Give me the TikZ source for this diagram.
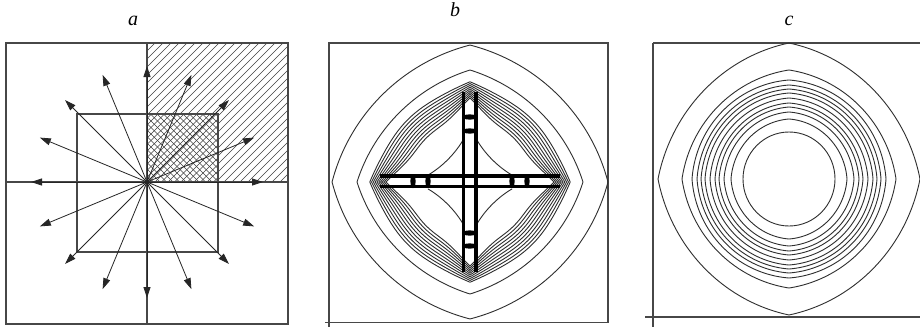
\documentclass[tikz,border=0pt]{standalone}
\usepackage{fontspec}
\setmainfont{Liberation Serif}
\usetikzlibrary{arrows.meta}
\pgfmathdeclarefunction{lensr}{3}{\pgfmathparse{-#2*(abs(cos(#1))+abs(sin(#1)))+sqrt((#2)^2*(abs(cos(#1))+abs(sin(#1)))^2+#3)}}
\begin{document}
\begin{tikzpicture}[x=1pt,y=-1pt,
  frame/.style={draw=black!72, line width=1.2pt},
  cont/.style={draw=black!82, line width=0.9pt},
  ray/.style={draw=black!85, line width=0.8pt, -{Triangle[length=11pt,width=7pt]}},
  hatchline/.style={draw=black!75, line width=0.6pt},
  barline/.style={draw=black, line width=3.4pt},
  lbl/.style={font=\itshape\fontsize{20}{20}\selectfont, inner sep=0pt}]
\useasboundingbox (0,0) rectangle (920,329);
\fill[white] (0,0) rectangle (920,329);
% labels
\node[lbl] (la) at (133,21) {a};
\node[lbl] (lb) at (455,10) {b};
\node[lbl] (lc) at (789,21) {c};
% ---------------- panel a ----------------
\coordinate (ca) at (147,182);
\begin{scope}
  \clip (147,43) rectangle (288,182);
  \foreach \i in {0,...,36} \draw[hatchline] ({8+\i*8},182) -- ++(150,-150);
\end{scope}
\begin{scope}
  \fill[white] (147,114) rectangle (218,182);
  \clip (147,114) rectangle (218,182);
  \foreach \i in {0,...,22} \draw[hatchline] ({77+\i*6.5},182) -- ++(100,-100);
  \foreach \i in {0,...,22} \draw[hatchline] ({147+\i*6.5},182) -- ++(-100,-100);
\end{scope}
\draw[frame] (6,43) rectangle (288,324);
\draw[frame] (147,43) -- (147,324);
\draw[frame] (6,182) -- (288,182);
\draw[frame] (77,114) rectangle (218,252);
\foreach \k in {0,...,15} {
  \coordinate (ta\k) at ({147+116*cos(\k*22.5)},{182-116*sin(\k*22.5)});
  \draw[ray] (ca) -- (ta\k);
}
% ---------------- panel b ----------------
\coordinate (cb) at (470,182);
\draw[frame] (329,43) rectangle (608,322.5);
\draw[frame] (325,322.5) -- (329,322.5) -- (329,327);
\draw[cont] plot[domain=0:360,samples=361]
  ({470+138*lensr(\x,0.348,1.695)*cos(\x)},{182+137*lensr(\x,0.348,1.695)*sin(\x)}) -- cycle;
\draw[cont] plot[domain=0:360,samples=361]
  ({470+113*lensr(\x,0.4614,1.9228)*cos(\x)},{182+112*lensr(\x,0.4614,1.9228)*sin(\x)}) -- cycle;
\foreach \k in {0,...,9} {
  \pgfmathsetmacro\D{62+2.9*\k}
  \pgfmathsetmacro\R{84+1.8*\k}
  \pgfmathsetmacro\Rz{\D/0.95}
  \draw[cont] plot[domain=0:360,samples=361]
   ({470+(\Rz*lensr(\x,0.1419,1.2838)+(\R-\Rz)*max(1.0001-abs(sin(2*\x)),0.0001)^2)*cos(\x)},
    {182+(\Rz*lensr(\x,0.1419,1.2838)+(\R-\Rz)*max(1.0001-abs(sin(2*\x)),0.0001)^2)*sin(\x)}) -- cycle;
}
\foreach \sx/\sy in {1/1,-1/1,1/-1,-1/-1} {
  \draw[cont] plot[domain=28:62,samples=40]
   ({470+\sx*60*cos(\x)^2.857},{182+\sy*60*sin(\x)^2.857});
}
% cross bars
\draw[barline] (463.5,92) -- (463.5,272);
\draw[barline] (476,92) -- (476,272);
\draw[barline] (380,175.8) -- (560,175.8);
\draw[barline] (380,186.6) -- (560,186.6);
\foreach \yy in {117,131,233,246} \fill (469.75,\yy) ellipse (7.8 and 2.6);
\foreach \xx in {413,428,512,527} \fill (\xx,181.2) ellipse (2.6 and 7);
% ---------------- panel c ----------------
\coordinate (cc) at (789,179);
\draw[frame] (653,43) -- (920,43);
\draw[frame] (653,43) -- (653,327);
\draw[frame] (645,317) -- (920,317);
\draw[cont] plot[domain=0:360,samples=361]
  ({789+131*lensr(\x,0.2551,1.5101)*cos(\x)},{179+136*lensr(\x,0.2551,1.5101)*sin(\x)}) -- cycle;
\draw[cont] plot[domain=0:360,samples=361]
  ({789+107*lensr(\x,0.1767,1.3535)*cos(\x)},{179+109*lensr(\x,0.1767,1.3535)*sin(\x)}) -- cycle;
\foreach \r in {99,94,90,86,81,76,72,67,60} {
  \draw[cont] plot[domain=0:360,samples=241]
   ({789+(\r-2)*lensr(\x,0.0795,1.159)*cos(\x)},{179+\r*lensr(\x,0.0795,1.159)*sin(\x)}) -- cycle;
}
\draw[cont] (cc) ellipse (46 and 47);
\end{tikzpicture}
\end{document}
